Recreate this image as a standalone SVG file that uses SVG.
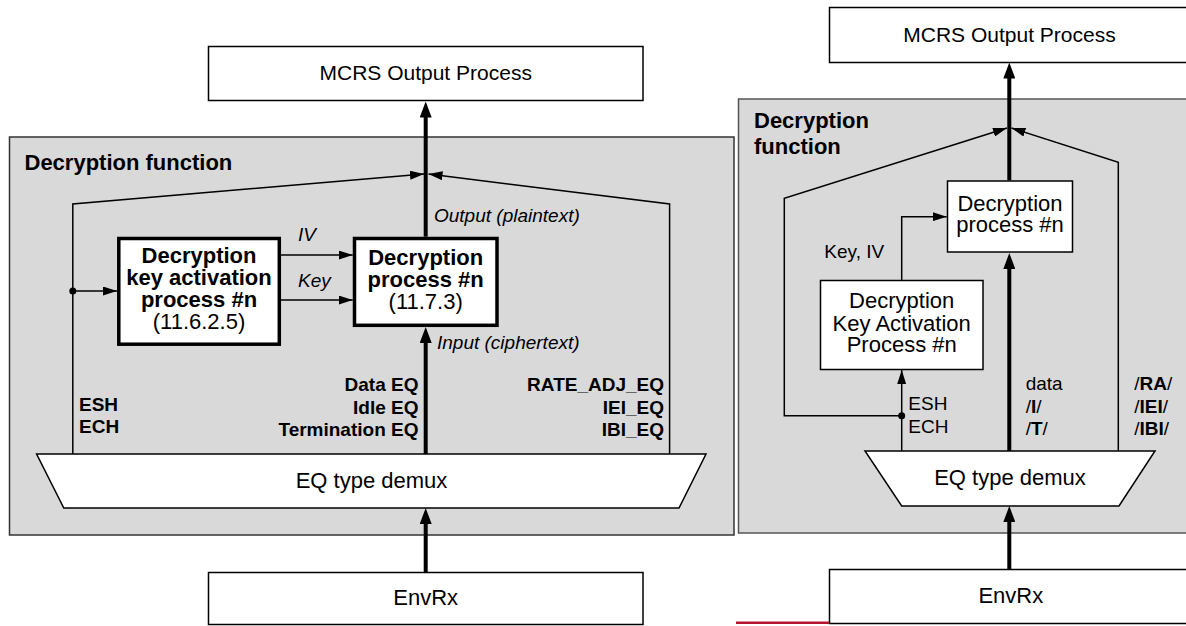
<svg xmlns="http://www.w3.org/2000/svg" width="1186" height="626" viewBox="0 0 1186 626">
<style>
text{font-family:"Liberation Sans",Arial,sans-serif;fill:#000}
.t22{font-size:22px}
.t21{font-size:21px}
.b22{font-size:22px;font-weight:bold}
.b19{font-size:19px;font-weight:bold}
.i19{font-size:19px;font-style:italic}
.r19{font-size:19px}
.mid{text-anchor:middle}
.end{text-anchor:end}
.box{fill:#fff;stroke:#000;stroke-width:1.5}
.bbox{fill:#fff;stroke:#000;stroke-width:3.5}
.gray{fill:#d9d9d9;stroke:#333;stroke-width:1.5}
.gray2{fill:#d9d9d9;stroke:#555;stroke-width:1.5}
.thin{fill:none;stroke:#000;stroke-width:1.5;marker-end:url(#ah)}
.thinn{fill:none;stroke:#000;stroke-width:1.5}
.thick{fill:none;stroke:#000;stroke-width:4;marker-end:url(#ahT)}
</style>
<defs>
<marker id="ah" markerWidth="14" markerHeight="9" refX="14" refY="4.5" orient="auto" markerUnits="userSpaceOnUse"><path d="M0,0 L14,4.5 L0,9 z" fill="#000"/></marker>
<marker id="ahT" markerWidth="16" markerHeight="12" refX="6" refY="6" orient="auto" markerUnits="userSpaceOnUse"><path d="M0,0 L16,6 L0,12 z" fill="#000"/></marker>
</defs>

<!-- LEFT PANEL -->
<g id="left-decryption-function">
<rect class="gray" x="9.5" y="137" width="724.5" height="398"/>
<text class="b22" x="24.5" y="170">Decryption function</text>
</g>
<g id="left-mcrs">
<rect class="box" x="208.5" y="46.5" width="434.5" height="54"/>
<text class="t21 mid" x="425.7" y="80">MCRS Output Process</text>
</g>
<g id="left-kap">
<rect class="bbox" x="118.8" y="238.5" width="160.5" height="105.7"/>
<text class="b22 mid" x="199" y="263">Decryption</text>
<text class="b22 mid" x="199" y="285">key activation</text>
<text class="b22 mid" x="199" y="307">process #n</text>
<text class="t22 mid" x="199" y="329">(11.6.2.5)</text>
</g>
<g id="left-dp">
<rect class="bbox" x="354.5" y="238.5" width="142.5" height="86.8"/>
<text class="b22 mid" x="425.7" y="265">Decryption</text>
<text class="b22 mid" x="425.7" y="287">process #n</text>
<text class="t22 mid" x="425.7" y="309">(11.7.3)</text>
</g>
<g id="left-demux">
<polygon class="box" points="36.6,454 706,454 679,508 63.8,508"/>
<text class="t22 mid" x="371.5" y="488">EQ type demux</text>
</g>
<g id="left-envrx">
<rect class="box" x="208.5" y="572.5" width="434.5" height="52"/>
<text class="t22 mid" x="425.7" y="605">EnvRx</text>
</g>
<g id="left-connectors">
<path class="thin" d="M72.8,454 V204 L424,174"/>
<path class="thin" d="M669.6,454 V204 L428.5,174"/>
<path class="thin" d="M72.8,291 H117"/>
<circle cx="72.8" cy="291" r="3.5" fill="#000"/>
<path class="thin" d="M281,255 H352.7"/>
<path class="thin" d="M281,300 H352.7"/>
<path class="thick" d="M425.7,236.7 V111.5"/>
<path class="thick" d="M425.7,454 V337"/>
<path class="thick" d="M425.7,572 V518"/>
</g>
<g id="left-labels">
<text class="i19" x="434" y="222">Output (plaintext)</text>
<text class="i19" x="298" y="241">IV</text>
<text class="i19" x="298" y="287">Key</text>
<text class="i19" x="437" y="349">Input (ciphertext)</text>
<text class="b19 end" x="418.5" y="391">Data EQ</text>
<text class="b19 end" x="418.5" y="414">Idle EQ</text>
<text class="b19 end" x="418.5" y="436">Termination EQ</text>
<text class="b19 end" x="664" y="391">RATE_ADJ_EQ</text>
<text class="b19 end" x="664" y="414">IEI_EQ</text>
<text class="b19 end" x="664" y="436">IBI_EQ</text>
<text class="b19" x="79" y="411">ESH</text>
<text class="b19" x="79" y="433">ECH</text>
</g>

<!-- RIGHT PANEL -->
<g id="right-decryption-function">
<rect class="gray2" x="738.5" y="99" width="460" height="434"/>
<text class="b22" x="754" y="128">Decryption</text>
<text class="b22" x="754" y="154">function</text>
</g>
<g id="right-mcrs">
<rect class="box" x="829.5" y="7.5" width="370" height="55"/>
<text class="t21 mid" x="1009.5" y="41.7">MCRS Output Process</text>
</g>
<g id="right-dp">
<rect class="box" x="947.5" y="181" width="125" height="71"/>
<text class="t22 mid" x="1010" y="210.5">Decryption</text>
<text class="t22 mid" x="1010" y="231.5">process #n</text>
</g>
<g id="right-kap">
<rect class="box" x="820.5" y="280.5" width="162.5" height="89"/>
<text class="t22 mid" x="901.7" y="308">Decryption</text>
<text class="t22 mid" x="901.7" y="330.5">Key Activation</text>
<text class="t22 mid" x="901.7" y="352">Process #n</text>
</g>
<g id="right-demux">
<polygon class="box" points="865,451 1155,451 1119,506 901.7,506"/>
<text class="t22 mid" x="1010" y="485">EQ type demux</text>
</g>
<g id="right-envrx">
<rect class="box" x="829.5" y="569.5" width="370" height="54"/>
<text class="t22 mid" x="1010.8" y="602.7">EnvRx</text>
</g>
<g id="right-connectors">
<path class="thin" d="M901.7,415.7 H784.3 V198.3 L1007,128"/>
<path class="thin" d="M1118.3,451 V162.3 L1011.5,128"/>
<path class="thin" d="M901.7,451 V370"/>
<circle cx="901.7" cy="415.7" r="3.5" fill="#000"/>
<path class="thin" d="M901.7,280 V216.7 H946.7"/>
<path class="thick" d="M1009.3,180.3 V72.5"/>
<path class="thick" d="M1009.3,451 V263"/>
<path class="thick" d="M1009.3,569.3 V516"/>
</g>
<g id="right-labels">
<text class="r19" x="824.3" y="258">Key, IV</text>
<text class="r19" x="908.3" y="410">ESH</text>
<text class="r19" x="908.3" y="432.5">ECH</text>
<text class="r19" x="1025.7" y="390">data</text>
<text class="r19" x="1025.7" y="412.5">/<tspan font-weight="bold">I</tspan>/</text>
<text class="r19" x="1025.7" y="435">/<tspan font-weight="bold">T</tspan>/</text>
<text class="r19" x="1134.3" y="390">/<tspan font-weight="bold">RA</tspan>/</text>
<text class="r19" x="1134.3" y="412.5">/<tspan font-weight="bold">IEI</tspan>/</text>
<text class="r19" x="1134.3" y="435">/<tspan font-weight="bold">IBI</tspan>/</text>
</g>
<line x1="736" y1="622.7" x2="829" y2="622.7" stroke="#b5122f" stroke-width="2.5"/>
</svg>
